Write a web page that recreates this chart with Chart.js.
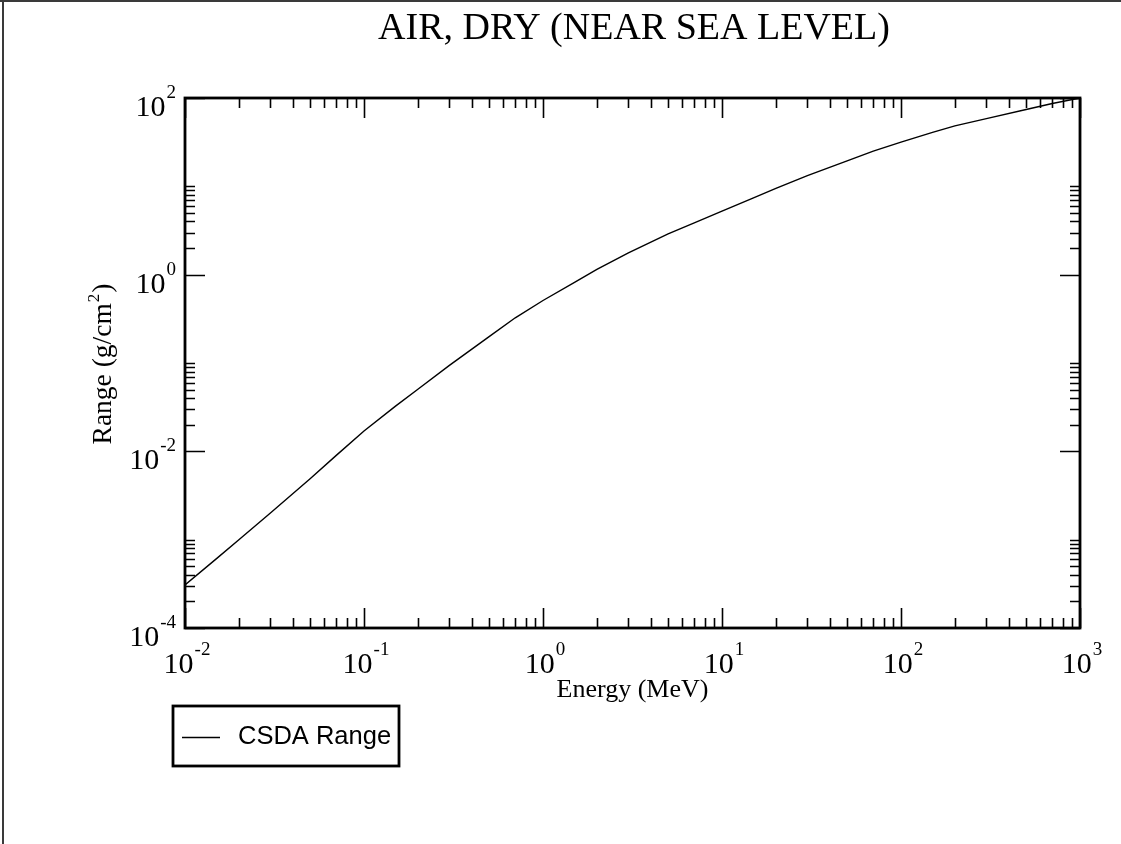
<!DOCTYPE html>
<html>
<head>
<meta charset="utf-8">
<script src="https://cdn.jsdelivr.net/npm/chart.js@4.4.1/dist/chart.umd.min.js"></script>
<style>
  html, body { margin: 0; padding: 0; background: #ffffff; }
  #wrap { width: 1121px; height: 844px; position: relative; }
  canvas { display: block; }
</style>
</head>
<body>
<div id="wrap"><canvas id="c" width="1121" height="844"></canvas></div>
<script>
// ---- text ----
const chartTitle = "AIR, DRY (NEAR SEA LEVEL)";
const xAxisTitle = "Energy (MeV)";
const yAxisTitleParts = ["Range (g/cm", "2", ")"];
const legendLabel = "CSDA Range";

// ---- data ----
const energyMeV = [0.01, 0.015, 0.02, 0.03, 0.05, 0.07, 0.1, 0.15, 0.2, 0.3, 0.5, 0.7,
                   1, 1.5, 2, 3, 5, 7, 10, 15, 20, 30, 50, 70,
                   100, 150, 200, 300, 500, 700, 1000];
const csdaRange = [3.07e-4, 6.1e-4, 1.0e-3, 2.0e-3, 4.9e-3, 9.0e-3, 0.0170, 0.0325, 0.0505, 0.094, 0.199, 0.325,
                   0.51, 0.82, 1.15, 1.76, 2.90, 3.85, 5.25, 7.41, 9.48, 13.2, 19.4, 25.0,
                   31.6, 40.8, 48.3, 58.5, 74.1, 86.7, 100];

// ---- axes / ticks ----
const xMin = 0.01, xMax = 1000;
const yMin = 1e-4, yMax = 100;
const xMajorExponents = [-2, -1, 0, 1, 2, 3];
const yMajorExponents = [-4, -2, 0, 2];
const xMinorMultipliers = [2, 3, 4, 5, 6, 7, 8, 9];
const yMinorMultipliers = [2, 3, 4, 5, 6, 7, 8, 9, 10];

const SERIF = "'Liberation Serif', 'Times New Roman', serif";
const SANS = "'Liberation Sans', Arial, sans-serif";

function drawPow(ctx, exp, x, baseY, supY, align) {
  const base = "10", sup = String(exp);
  ctx.font = "30px " + SERIF;
  const wb = ctx.measureText(base).width;
  ctx.font = "19px " + SERIF;
  const ws = ctx.measureText(sup).width;
  const total = wb + ws + 1;
  let start = align === "center" ? x - total / 2 : x - total;
  ctx.textAlign = "left";
  ctx.textBaseline = "alphabetic";
  ctx.font = "30px " + SERIF;
  ctx.fillText(base, start, baseY);
  ctx.font = "19px " + SERIF;
  ctx.fillText(sup, start + wb + 1, supY);
}

const decorPlugin = {
  id: "decor",
  beforeDraw(chart) {
    const ctx = chart.ctx;
    ctx.save();
    ctx.fillStyle = "#ffffff";
    ctx.fillRect(0, 0, chart.width, chart.height);
    // outer page frame (top and left)
    ctx.fillStyle = "#3a3a3a";
    ctx.fillRect(0, 0, chart.width, 2);
    ctx.fillRect(2, 0, 2, chart.height);
    ctx.restore();
  },
  afterDraw(chart) {
    const ctx = chart.ctx;
    const a = chart.chartArea;
    const xs = chart.scales.x, ys = chart.scales.y;
    ctx.save();
    ctx.strokeStyle = "#000";
    ctx.fillStyle = "#000";

    // ticks (inward on all sides)
    ctx.lineWidth = 1.6;
    const majorLen = 20, minorLen = 10;
    ctx.beginPath();
    xMajorExponents.forEach(e => {
      const px = Math.round(xs.getPixelForValue(Math.pow(10, e))) + 0.5;
      ctx.moveTo(px, a.bottom); ctx.lineTo(px, a.bottom - majorLen);
      ctx.moveTo(px, a.top); ctx.lineTo(px, a.top + majorLen);
    });
    xMajorExponents.slice(0, -1).forEach(e => {
      xMinorMultipliers.forEach(m => {
        const px = Math.round(xs.getPixelForValue(m * Math.pow(10, e))) + 0.5;
        ctx.moveTo(px, a.bottom); ctx.lineTo(px, a.bottom - minorLen);
        ctx.moveTo(px, a.top); ctx.lineTo(px, a.top + minorLen);
      });
    });
    yMajorExponents.forEach(e => {
      const py = Math.round(ys.getPixelForValue(Math.pow(10, e))) + 0.5;
      ctx.moveTo(a.left, py); ctx.lineTo(a.left + majorLen, py);
      ctx.moveTo(a.right, py); ctx.lineTo(a.right - majorLen, py);
    });
    yMajorExponents.slice(0, -1).forEach(e => {
      yMinorMultipliers.forEach(m => {
        const py = Math.round(ys.getPixelForValue(m * Math.pow(10, e))) + 0.5;
        ctx.moveTo(a.left, py); ctx.lineTo(a.left + minorLen, py);
        ctx.moveTo(a.right, py); ctx.lineTo(a.right - minorLen, py);
      });
    });
    ctx.stroke();

    // plot frame
    ctx.lineWidth = 2.8;
    ctx.strokeRect(a.left, a.top, a.right - a.left, a.bottom - a.top);

    // tick labels
    xMajorExponents.forEach(e => {
      const px = xs.getPixelForValue(Math.pow(10, e));
      drawPow(ctx, e, px + 2, a.bottom + 45, a.bottom + 27, "center");
    });
    yMajorExponents.forEach(e => {
      const py = ys.getPixelForValue(Math.pow(10, e));
      drawPow(ctx, e, a.left - 9, py + 18, py, "right");
    });

    // chart title
    ctx.font = "38px " + SERIF;
    ctx.textAlign = "center";
    ctx.textBaseline = "alphabetic";
    ctx.fillText(chartTitle, 634, 39);

    // x axis title
    ctx.font = "26px " + SERIF;
    ctx.fillText(xAxisTitle, (a.left + a.right) / 2, 697);

    // y axis title (rotated, with superscript)
    ctx.save();
    ctx.translate(111, (a.top + a.bottom) / 2 + 1);
    ctx.rotate(-Math.PI / 2);
    ctx.font = "27.5px " + SERIF;
    const w1 = ctx.measureText(yAxisTitleParts[0]).width;
    const w3 = ctx.measureText(yAxisTitleParts[2]).width;
    ctx.font = "17px " + SERIF;
    const w2 = ctx.measureText(yAxisTitleParts[1]).width;
    const tot = w1 + w2 + w3 + 2;
    let sx = -tot / 2;
    ctx.textAlign = "left";
    ctx.font = "27.5px " + SERIF;
    ctx.fillText(yAxisTitleParts[0], sx, 0);
    ctx.font = "17px " + SERIF;
    ctx.fillText(yAxisTitleParts[1], sx + w1 + 1, -12);
    ctx.font = "27.5px " + SERIF;
    ctx.fillText(yAxisTitleParts[2], sx + w1 + w2 + 2, 0);
    ctx.restore();

    // legend box
    ctx.lineWidth = 2.8;
    ctx.strokeRect(173, 706, 226, 60);
    ctx.lineWidth = 1.3;
    ctx.beginPath();
    ctx.moveTo(182, 737.5); ctx.lineTo(220, 737.5);
    ctx.stroke();
    ctx.font = "25.5px " + SANS;
    ctx.textAlign = "left";
    ctx.textBaseline = "alphabetic";
    ctx.fillText(legendLabel, 238, 744);

    ctx.restore();
  }
};

new Chart(document.getElementById("c"), {
  type: "line",
  data: {
    datasets: [{
      label: legendLabel,
      data: energyMeV.map((e, i) => ({ x: e, y: csdaRange[i] })),
      borderColor: "#000",
      borderWidth: 1.4,
      pointRadius: 0,
      tension: 0,
      fill: false
    }]
  },
  options: {
    responsive: false,
    devicePixelRatio: 1,
    animation: false,
    layout: { padding: { left: 185, top: 98, right: 41, bottom: 216 } },
    plugins: { legend: { display: false }, title: { display: false }, tooltip: { enabled: false } },
    scales: {
      x: { type: "logarithmic", min: xMin, max: xMax, display: false },
      y: { type: "logarithmic", min: yMin, max: yMax, display: false }
    }
  },
  plugins: [decorPlugin]
});
</script>
</body>
</html>
